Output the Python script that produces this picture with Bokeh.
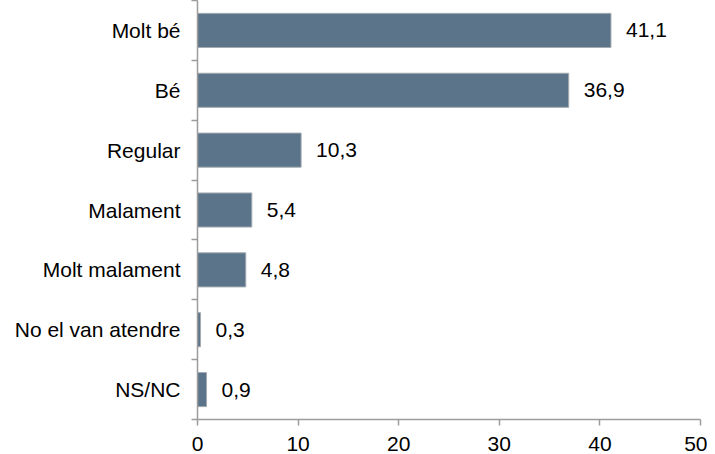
from bokeh.plotting import figure
from bokeh.models import ColumnDataSource, FixedTicker, Range1d, LabelSet
from bokeh.core.properties import value
from bokeh.embed import file_html
from bokeh.resources import INLINE

categories = ["Molt bé", "Bé", "Regular", "Malament", "Molt malament", "No el van atendre", "NS/NC"]
values = [41.1, 36.9, 10.3, 5.4, 4.8, 0.3, 0.9]
x_ticks = [0, 10, 20, 30, 40, 50]

n = len(categories)
ypos = [n - i - 0.5 for i in range(n)]
labels = [f"{v:.1f}".replace(".", ",") for v in values]

src = ColumnDataSource(dict(y=ypos, v=values, lab=labels, cat=categories))

FONT = "Liberation Sans"
FS = "21px"
AX = "#9c9c9c"

p = figure(width=707, height=453, output_backend="svg", toolbar_location=None,
           x_range=Range1d(0, 50), y_range=Range1d(0, n),
           min_border_left=197, min_border_right=7, min_border_top=0, min_border_bottom=0)
p.outline_line_color = None
p.grid.visible = False
p.background_fill_color = "white"

p.hbar(y="y", right="v", left=0, height=0.57, source=src,
       fill_color="#5b7489", line_color="#a4abb2", line_width=1)

p.add_layout(LabelSet(x="v", y="y", text="lab", source=src, x_offset=15,
                      text_baseline="middle", text_align="left",
                      text_font=value(FONT), text_font_size=value(FS), text_color="black"))

# x axis
xa = p.xaxis[0]
xa.ticker = FixedTicker(ticks=x_ticks)
xa.axis_line_color = AX
xa.axis_line_width = 1.5
xa.major_tick_line_color = AX
xa.major_tick_line_width = 1.5
xa.major_tick_out = 6
xa.major_tick_in = 0
xa.minor_tick_line_color = None
xa.major_label_text_font = FONT
xa.major_label_text_font_size = FS
xa.major_label_text_color = "black"
xa.major_label_standoff = 11

# y axis: labels at category centres, tick marks at category boundaries
ya = p.yaxis[0]
ya.ticker = FixedTicker(ticks=ypos, minor_ticks=list(range(n + 1)))
ya.major_label_overrides = {y: c for y, c in zip(ypos, categories)}
ya.axis_line_color = AX
ya.axis_line_width = 1.5
ya.major_tick_line_color = None
ya.major_tick_out = 0
ya.major_tick_in = 0
ya.minor_tick_line_color = AX
ya.minor_tick_line_width = 1.5
ya.minor_tick_out = 6
ya.minor_tick_in = 0
ya.major_label_text_font = FONT
ya.major_label_text_font_size = FS
ya.major_label_text_color = "black"
ya.major_label_text_line_height = 0.45
ya.major_label_standoff = 11

open("out.html", "w").write(file_html(p, INLINE))
